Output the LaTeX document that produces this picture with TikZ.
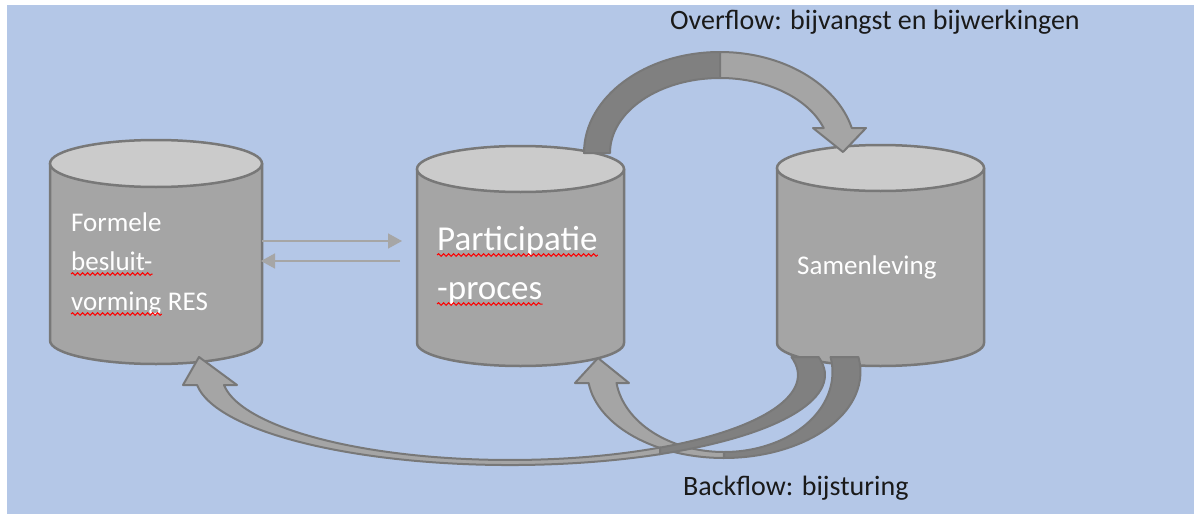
\documentclass[tikz,border=0pt]{standalone}
\usepackage{fontspec}
\setmainfont{Carlito}
\usetikzlibrary{arrows.meta,decorations.pathmorphing}
\definecolor{bgblue}{HTML}{B4C7E7}
\definecolor{cylbody}{HTML}{A5A5A5}
\definecolor{cyltop}{HTML}{CBCBCB}
\definecolor{cylline}{HTML}{787878}
\definecolor{darkband}{HTML}{808080}
\definecolor{thingray}{HTML}{A6A6A6}
\definecolor{txt}{HTML}{1A1A1A}
% cylinder: #1 cx, #2 top centre y, #3 bottom centre y, #4 x radius, #5 y radius
\newcommand\mycyl[5]{%
  \path[cylbodystyle] (#1-#4,#2) -- (#1-#4,#3)
    arc[start angle=180,end angle=360,x radius=#4pt,y radius=#5pt] -- (#1+#4,#2) -- cycle;
  \path[cyltopstyle] (#1,#2) ellipse[x radius=#4pt,y radius=#5pt];}
\begin{document}
\begin{tikzpicture}[x=1pt,y=-1pt,
  cylbodystyle/.style={fill=cylbody, draw=cylline, line width=2.5pt, line join=round},
  cyltopstyle/.style={fill=cyltop, draw=cylline, line width=2.5pt},
  cylnode/.style={rectangle, inner sep=0pt, outer sep=0pt},
  intext/.style={text=white, font=\fontsize{27}{30}\selectfont, inner sep=0pt, anchor=base west},
  bigtext/.style={text=white, font=\fontsize{35}{40}\selectfont, inner sep=0pt, anchor=base west},
  lbltext/.style={text=txt, font=\fontsize{28}{32}\selectfont, inner sep=0pt, anchor=base west},
  squig/.style={draw=red, line width=1pt, decorate, decoration={snake, amplitude=1.3pt, segment length=5pt}},
  thinarrow/.style={draw=thingray, line width=1.5pt, -{Triangle[length=14pt,width=15pt]}},
  banddark/.style={fill=darkband, draw=cylline, line width=2pt, line join=round},
  bandlight/.style={fill=cylbody, draw=cylline, line width=2pt, line join=round}
]
\useasboundingbox (0,0) rectangle (1194,514);
\fill[white] (0,0) rectangle (1194,514);
\fill[bgblue] (7,5) rectangle (1194,514);

% cylinders
\mycyl{156}{163.5}{340.5}{106}{23.5}
\mycyl{520.5}{169}{343}{103.5}{23}
\mycyl{880.5}{168}{343}{103.5}{23}
\node[cylnode, minimum width=212pt, minimum height=224pt] (c1) at (156,252) {};
\node[cylnode, minimum width=207pt, minimum height=220pt] (c2) at (520.5,256) {};
\node[cylnode, minimum width=207pt, minimum height=221pt] (c3) at (880.5,255.5) {};

% texts
\node[intext] (t1) at (71,231) {Formele};
\node[intext] (t2) at (71,270) {besluit-};
\node[intext] (t3) at (71,310) {vorming};
\node[intext] (t4) at ([xshift=6.1pt]t3.base east) {RES};
\node[bigtext] (p1) at (437,250) {Participatie};
\node[bigtext] (p2) at (437,299) {-proces};
\node[intext] (s1) at (797,274) {Samenleving};
\node[lbltext] (ov) at (670,29) {Overflow: bijvangst en bijwerkingen};
\node[lbltext] (bk) at (683,495) {Backflow: bijsturing};

% squiggly underlines
\draw[squig] ([yshift=-4pt]t2.base west) -- ([yshift=-4pt]t2.base east);
\draw[squig] ([yshift=-4pt]t3.base west) -- ([yshift=-4pt]t3.base east);
\draw[squig] ([yshift=-5pt]p1.base west) -- ([yshift=-5pt]p1.base east);
\draw[squig] ([yshift=-5pt]p2.base west) -- ([yshift=-5pt]p2.base east);

% thin arrows
\coordinate (r1) at ([shift={(246pt,11pt)}]c1.center);
\coordinate (r2) at ([shift={(244pt,-9pt)}]c1.center);
\draw[thinarrow] ([shift={(106pt,11pt)}]c1.center) -- (r1);
\draw[thinarrow] (r2) -- ([shift={(105pt,-9pt)}]c1.center);

% overflow arrow
\path[banddark] (584,153) arc[start angle=180,end angle=90,x radius=136pt,y radius=101pt]
  -- (720,78) arc[start angle=90,end angle=180,x radius=110pt,y radius=75pt] -- cycle;
\path[bandlight] (720,52) arc[start angle=90,end angle=14.33,x radius=136pt,y radius=101pt]
  -- (866,128) -- (843,152) -- (813,128) -- (823.7,128)
  arc[start angle=19.47,end angle=90,x radius=110pt,y radius=75pt] -- cycle;

% backflow arrow B (to participatie)
\path[banddark] (858.4,357) arc[start angle=10.04,end angle=-90,x radius=136.5pt,y radius=86pt]
  -- (724,452) arc[start angle=-90,end angle=10.81,x radius=108.5pt,y radius=80pt] -- cycle;
\path[bandlight] (724,458) arc[start angle=-90,end angle=-172.65,x radius=136.5pt,y radius=86pt]
  -- (575,383) -- (598,358) -- (629,383) -- (616.5,383)
  arc[start angle=-172.1,end angle=-90,x radius=108.5pt,y radius=80pt] -- cycle;
% backflow arrow A (to formele besluitvorming)
\path[banddark] (818.6,357) arc[start angle=11.54,end angle=-61.6,x radius=315pt,y radius=90pt]
  -- (660,447.6) arc[start angle=-58.6,end angle=12.23,x radius=288pt,y radius=85pt] -- cycle;
\path[bandlight] (660,454.2) arc[start angle=-61.6,end angle=-173.62,x radius=315pt,y radius=90pt]
  -- (183,385) -- (199,357) -- (237,385) -- (224,385)
  arc[start angle=-173.24,end angle=-58.6,x radius=288pt,y radius=85pt] -- cycle;
\end{tikzpicture}
\end{document}
